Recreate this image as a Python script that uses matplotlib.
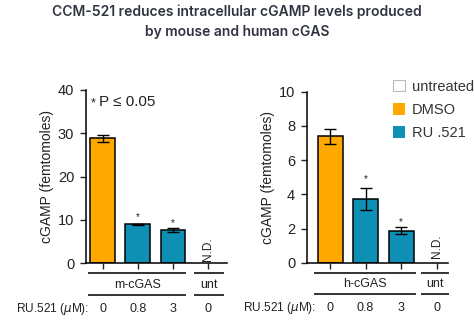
import matplotlib
matplotlib.use("Agg")
import matplotlib.pyplot as plt
from matplotlib.patches import Patch

# values
doses = ["0", "0.8", "3", "0"]
mouse_means = [28.8, 9.0, 7.6]
mouse_errs = [0.9, 0.1, 0.5]
human_means = [7.4, 3.75, 1.88]
human_errs = [0.43, 0.65, 0.2]
bar_colors = ["#FFA800", "#0E90B4", "#0E90B4"]
legend_labels = ["untreated", "DMSO", "RU .521"]

TEXT = "#222222"
plt.rcParams["font.family"] = ["Liberation Sans", "DejaVu Sans"]

fig = plt.figure(figsize=(4.74, 3.22), dpi=100)

fig.text(0.5, 0.965, "CCM-521 reduces intracellular cGAMP levels produced",
         ha="center", va="center", family="Inter", weight="semibold", size=10, color="#2f3440")
fig.text(0.5, 0.902, "by mouse and human cGAS",
         ha="center", va="center", family="Inter", weight="semibold", size=10, color="#2f3440")


def draw_panel(ax, means, errs, ymax, group_name, xlim, group_span, unt_span, star_y, nd_y):
    x = list(range(len(means)))
    ax.bar(x, means, width=0.7, color=bar_colors, edgecolor="black", linewidth=1.1, zorder=2)
    ax.errorbar(x, means, yerr=errs, fmt="none", ecolor="black", elinewidth=1.0,
                capsize=4, capthick=1.0, zorder=3)
    ax.set_xlim(*xlim)
    ax.set_ylim(0, ymax)
    ax.set_xticks(range(len(doses)))
    ax.set_xticklabels([])
    for s in ["top", "right"]:
        ax.spines[s].set_visible(False)
    for s in ["left", "bottom"]:
        ax.spines[s].set_linewidth(1.1)
    ax.tick_params(axis="both", direction="out", length=4.5, width=1.0, colors=TEXT,
                   labelsize=10.5, pad=4)
    ax.set_ylabel("cGAMP (femtomoles)", fontsize=10, color=TEXT, labelpad=3)

    for xi, yi in zip([1, 2], star_y):
        ax.text(xi, yi, "*", ha="center", va="center", fontsize=7, color=TEXT)
    ax.text(3, nd_y, "N.D.", rotation=90, ha="center", va="bottom", fontsize=8.5, color=TEXT)

    tr = ax.get_xaxis_transform()
    for yline in [-0.058, -0.185]:
        ax.plot(group_span, [yline, yline], transform=tr, color="#333333", lw=1.4, clip_on=False)
        ax.plot(unt_span, [yline, yline], transform=tr, color="#333333", lw=1.4, clip_on=False)
    ax.text(sum(group_span) / 2, -0.125, group_name, transform=tr, ha="center", va="center",
            fontsize=9, color=TEXT)
    ax.text(sum(unt_span) / 2, -0.125, "unt", transform=tr, ha="center", va="center",
            fontsize=9, color=TEXT)
    for xi, d in enumerate(doses):
        ax.text(xi, -0.265, d, transform=tr, ha="center", va="center", fontsize=9, color=TEXT)
    ax.text(-0.38, -0.265, "RU.521 ($\\mu$M):", transform=tr, ha="right", va="center",
            fontsize=8.6, color=TEXT)


ax1 = fig.add_axes([0.1814, 0.1832, 0.2975, 0.5373])
draw_panel(ax1, mouse_means, mouse_errs, 40, "m-cGAS", (-0.47, 3.53),
           (-0.38, 2.34), (2.62, 3.41), [10.7, 9.3], 0.5)
ax1.set_yticks([0, 10, 20, 30, 40])
ax1.text(-0.28, 38.3, "*", ha="center", va="top", fontsize=9, color=TEXT)
ax1.text(-0.1, 37.3, "P \u2264 0.05", ha="left", va="center", fontsize=11, color=TEXT)

ax2 = fig.add_axes([0.6477, 0.184, 0.2975, 0.531])
draw_panel(ax2, human_means, human_errs, 10, "h-cGAS", (-0.65, 3.32),
           (-0.42, 2.39), (2.59, 3.32), [4.9, 2.4], 0.3)
ax2.set_yticks([0, 2, 4, 6, 8, 10])

handles = [Patch(facecolor="white", edgecolor="#bbbbbb", linewidth=0.8),
           Patch(facecolor="#FFA800", edgecolor="none"),
           Patch(facecolor="#0E90B4", edgecolor="none")]
fig.legend(handles, legend_labels, loc="upper left", bbox_to_anchor=(0.829, 0.752),
           frameon=False, fontsize=10.5, handlelength=0.82, handleheight=0.82,
           labelspacing=0.62, handletextpad=0.5, borderpad=0, borderaxespad=0,
           labelcolor="#333333")

fig.savefig("out.png", dpi=100)
